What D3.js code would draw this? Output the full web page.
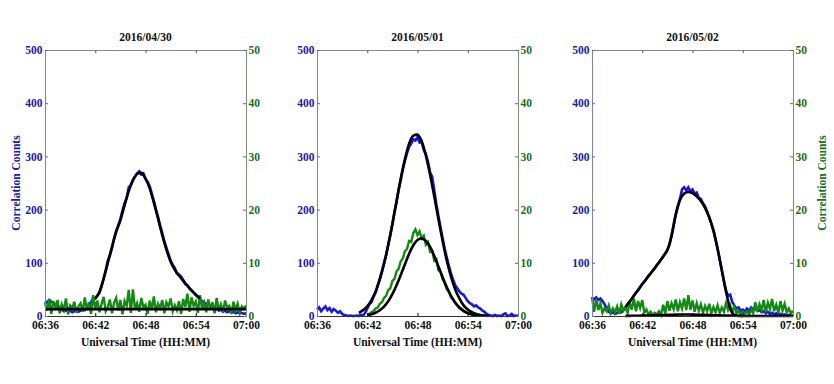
<!DOCTYPE html>
<html>
<head>
<meta charset="utf-8">
<script src="https://cdn.jsdelivr.net/npm/d3@7"></script>
<style>
  body { margin: 0; background: #fff; }
  text { font-family: "Liberation Serif", "Times New Roman", serif; font-weight: bold; }
</style>
</head>
<body>
<svg id="chart" width="834" height="384"></svg>
<script>
// ---- data (minutes after 06:00) ----
const panelTitles = ["2016/04/30", "2016/05/01", "2016/05/02"];
const timeTicks = [36, 42, 48, 54, 60];
const timeTickLabels = ["06:36", "06:42", "06:48", "06:54", "07:00"];
const countTicks = [0, 100, 200, 300, 400, 500];
const rightTicks = [0, 10, 20, 30, 40, 50];

// blue = correlation counts (left axis), sampled every 0.25 min from 06:36
const blueApr30 = [28,25,30,27,24,22,18,14,12,9, 11,8,10,7,9,12,8,10,13,11,
  15,18,26,34,33,38,44,56,70,86, 104,114,128,146,160,170,182,198,212,222,
  242,246,256,262,268,272,266,268,258,252, 244,230,216,200,186,170,156,140,128,116,
  104,96,90,80,78,74,68,60,58,52, 48,44,40,36,32,28,26,22,24,18,
  15,12,14,10,12,8,10,7,9,6, 8,5,7,5,6,4,5];
const blueMay01 = [12,16,9,14,18,11,15,8,13,10, 6,9,4,2,1,0,1,0,0,1,
  0,2,1,6,14,22,26,36,44,58, 70,84,100,114,134,152,172,196,214,238,
  256,276,292,306,318,324,332,330,336,326, 328,312,304,290,270,262,236,210,188,166,
  146,126,110,94,80,68,58,52,46,42, 40,34,28,24,22,18,20,16,14,10,
  8,4,2,1,0,2,0,1,0,3, 5,0,1,4,0,1,0];
const blueMay02 = [34,31,35,30,33,28,22,14,8,5, 7,4,6,9,7,12,16,22,27,32,
  38,44,48,54,60,64,70,76,80,86, 90,96,100,106,112,118,124,134,152,172,
  192,206,220,238,242,236,242,234,238,230, 232,222,220,212,206,196,186,174,162,144,
  126,106,86,66,48,38,40,26,20,14, 16,10,12,8,14,10,16,12,14,9,
  11,7,9,5,8,4,6,3,5,2, 4,2,3,1,2,1,1];

// green = second correlation counts (right axis), sampled every 0.25 min
const greenApr30 = [2.5,1.0,3.2,0.4,2.8,1.6,3.0,0.5,2.2,1.2, 3.3,0.3,2.0,1.5,2.7,0.6,1.8,2.4,0.8,3.5,
  1.1,2.6,0.4,3.9,1.4,2.9,0.7,2.2,3.6,0.9, 1.7,3.1,0.5,2.5,3.4,1.0,3.0,0.3,2.8,1.9,
  4.9,0.6,5.0,1.3,2.4,0.8,3.4,1.6,2.1,0.4, 2.9,1.2,3.7,0.7,2.3,1.5,3.0,0.5,2.6,1.8,
  3.3,0.9,2.0,1.1,2.8,0.4,3.2,1.7,4.2,0.8, 3.5,1.9,2.7,0.6,3.9,1.4,2.5,0.7,3.1,1.2,
  2.6,0.5,3.4,1.0,2.2,0.8,2.9,1.6,1.9,0.4, 2.7,1.1,2.3,0.6,1.8,1.3,2.0];
const greenMay01 = [0.2,0.4,0.7,0.9,1.4,1.6,2.3,2.6,3.4,3.8, 4.9,5.2,6.6,7.0,8.4,8.9,10.3,10.8,12.2,12.6,
  14.1,13.9,15.6,16.3,15.2,15.9,14.6,15.1,13.4,13.9, 12.1,12.3,10.4,10.7,8.6,8.3,6.9,6.2,5.0,4.6,
  3.5,3.1,2.4,2.0,1.5,1.3,0.9,0.7,0.5,0.4, 0.3,0.2,0.1];
const greenMay02 = [3.6,0.8,3.2,1.1,2.4,0.6,1.5,0.9,2.0,0.5, 1.4,0.7,1.8,0.4,2.2,1.0,1.6,0.6,2.5,1.2,
  3.3,0.9,2.8,1.5,3.0,0.6,1.2,0.3,0.8,0.2, 0.6,0.3,0.9,0.2,2.1,0.5,2.8,1.0,2.4,1.3,
  3.1,0.9,2.6,1.4,3.3,1.1,3.9,1.2,2.9,0.8, 2.4,1.0,2.2,0.6,1.9,0.9,2.3,0.5,1.7,0.7,
  2.0,0.6,1.6,0.8,2.4,1.1,2.0,0.7,1.8,0.5, 1.0,0.3,0.8,0.4,0.9,0.2,1.2,0.5,2.6,0.8,
  2.2,1.1,3.0,0.7,2.5,1.3,3.2,0.9,2.1,0.6, 2.8,1.0,2.3,0.7,1.4,0.5,1.0];

// fitted curves (black), sampled every 0.5 min unless noted
const blueFitApr30 = [33,45,70,100,130,158,180,208,235,255,267,269,258,240,213,183,152,125,102,87,76,66,57,48,40,33];
const blueFitMay01 = [6,11,18,30,46,69,98,133,173,216,258,295,324,339,341,328,302,266,225,182,141,104,74,50,33,20,12,7,4,2,1,0];
const blueFitMay02 = [17,27,38,49,60,70,80,90,101,112,124,150,190,218,230,233,231,225,216,203,185,160,126,86,46,14,2,0,0,0,0,0,0,0,0,0,0,0,0,0,0];
const greenFitApr30 = [1.3, 1.3];   // flat, 06:36 to 07:00
const greenFitMay01 = [0.17,0.34,0.62,1.08,1.77,2.77,4.12,5.78,7.71,9.74,11.7,13.3,14.3,14.6,14.1,13.0,11.3,9.3,7.3,5.4,3.8,2.55,1.6,0.97,0.55,0.30,0.15,0.07];
const greenFitMay02 = [0.02,0.04,0.07,0.11,0.16,0.21,0.25,0.27,0.26,0.22,0.17,0.12,0.08,0.05,0.03]; // every 1 min

const panels = [
  { title: panelTitles[0],
    blue: { start: 36, step: 0.25, values: blueApr30 },
    green: { start: 36, step: 0.25, values: greenApr30 },
    blueFit: { start: 42, step: 0.5, values: blueFitApr30 },
    greenFit: { start: 36, step: 24, values: greenFitApr30 } },
  { title: panelTitles[1],
    blue: { start: 36, step: 0.25, values: blueMay01 },
    green: { start: 42, step: 0.25, values: greenMay01 },
    blueFit: { start: 41, step: 0.5, values: blueFitMay01 },
    greenFit: { start: 42, step: 0.5, values: greenFitMay01 } },
  { title: panelTitles[2],
    blue: { start: 36, step: 0.25, values: blueMay02 },
    green: { start: 36, step: 0.25, values: greenMay02 },
    blueFit: { start: 40, step: 0.5, values: blueFitMay02 },
    greenFit: { start: 40, step: 1, values: greenFitMay02 } }
];

// ---- layout ----
const svg = d3.select("#chart");
const lefts = [45, 317, 592];
const plotW = 201, plotTop = 50, plotH = 266;
const blueCol = "#1616e8", greenCol = "#138a13", labelBlue = "#1a1aa6", labelGreen = "#1d6e1d";

const toPoints = s => s.values.map((v, i) => [s.start + i * s.step, v]);

panels.forEach((p, k) => {
  const g = svg.append("g").attr("transform", `translate(${lefts[k]},${plotTop})`);

  const x = d3.scaleLinear().domain([36, 60]).range([0, plotW]);
  const yL = d3.scaleLinear().domain([0, 500]).range([plotH, 0]);
  const yR = d3.scaleLinear().domain([0, 50]).range([plotH, 0]);

  const lineL = d3.line().x(d => x(d[0])).y(d => yL(d[1]));
  const lineR = d3.line().x(d => x(d[0])).y(d => yR(d[1]));
  const fitL = d3.line().x(d => x(d[0])).y(d => yL(d[1])).curve(d3.curveMonotoneX);
  const fitR = d3.line().x(d => x(d[0])).y(d => yR(d[1])).curve(d3.curveMonotoneX);

  // top axis (ticks only)
  g.append("g")
    .call(d3.axisTop(x).tickValues(timeTicks).tickFormat("").tickSizeInner(-3).tickSizeOuter(0))
    .call(a => a.select(".domain").attr("stroke", "#8a8a8a").attr("stroke-width", 1.2))
    .call(a => a.selectAll(".tick line").attr("stroke", "#555"));

  // data
  g.append("path").datum(toPoints(p.blue)).attr("d", lineL)
    .attr("fill", "none").attr("stroke", blueCol).attr("stroke-width", 2.6);
  g.append("path").datum(toPoints(p.green)).attr("d", lineR)
    .attr("fill", "none").attr("stroke", greenCol).attr("stroke-width", 2.4);
  g.append("path").datum(toPoints(p.blueFit)).attr("d", fitL)
    .attr("fill", "none").attr("stroke", "#000").attr("stroke-width", 2.6);
  g.append("path").datum(toPoints(p.greenFit)).attr("d", fitR)
    .attr("fill", "none").attr("stroke", "#000").attr("stroke-width", 2.6);

  // bottom axis
  g.append("g").attr("transform", `translate(0,${plotH})`)
    .call(d3.axisBottom(x).tickValues(timeTicks).tickFormat((d, i) => timeTickLabels[i])
      .tickSizeInner(-3).tickSizeOuter(0).tickPadding(5))
    .call(a => a.select(".domain").attr("stroke", "#333"))
    .call(a => a.selectAll("text").attr("font-size", 11.5).attr("fill", "#111")
      .style("font-family", "'Liberation Serif', serif").style("font-weight", "bold"));

  // left axis
  g.append("g")
    .call(d3.axisLeft(yL).tickValues(countTicks).tickSizeInner(-3).tickSizeOuter(0).tickPadding(2.5))
    .call(a => a.select(".domain").attr("stroke", "#8080a8"))
    .call(a => a.selectAll(".tick line").attr("stroke", "#6666aa"))
    .call(a => a.selectAll("text").attr("font-size", 11.5).attr("fill", labelBlue)
      .style("font-family", "'Liberation Serif', serif").style("font-weight", "bold"));

  // right axis
  g.append("g").attr("transform", `translate(${plotW},0)`)
    .call(d3.axisRight(yR).tickValues(rightTicks).tickSizeInner(-3).tickSizeOuter(0).tickPadding(2.5))
    .call(a => a.select(".domain").attr("stroke", "#7a8a7a"))
    .call(a => a.selectAll(".tick line").attr("stroke", "#4a7a4a"))
    .call(a => a.selectAll("text").attr("font-size", 11.5).attr("fill", labelGreen)
      .style("font-family", "'Liberation Serif', serif").style("font-weight", "bold"));

  // title and x label
  g.append("text").attr("x", plotW / 2).attr("y", -9.5).attr("text-anchor", "middle")
    .attr("font-size", 11.5).attr("fill", "#111").text(p.title);
  g.append("text").attr("x", plotW / 2).attr("y", plotH + 30).attr("text-anchor", "middle")
    .attr("font-size", 11.5).attr("fill", "#111").text("Universal Time (HH:MM)");

  if (k === 0) {
    g.append("text").attr("transform", `translate(-25,${plotH / 2}) rotate(-90)`)
      .attr("text-anchor", "middle").attr("font-size", 11.5).attr("fill", labelBlue)
      .text("Correlation Counts");
  }
  if (k === 2) {
    g.append("text").attr("transform", `translate(${plotW + 33},${plotH / 2}) rotate(-90)`)
      .attr("text-anchor", "middle").attr("font-size", 11.5).attr("fill", labelGreen)
      .text("Correlation Counts");
  }
});
</script>
</body>
</html>
